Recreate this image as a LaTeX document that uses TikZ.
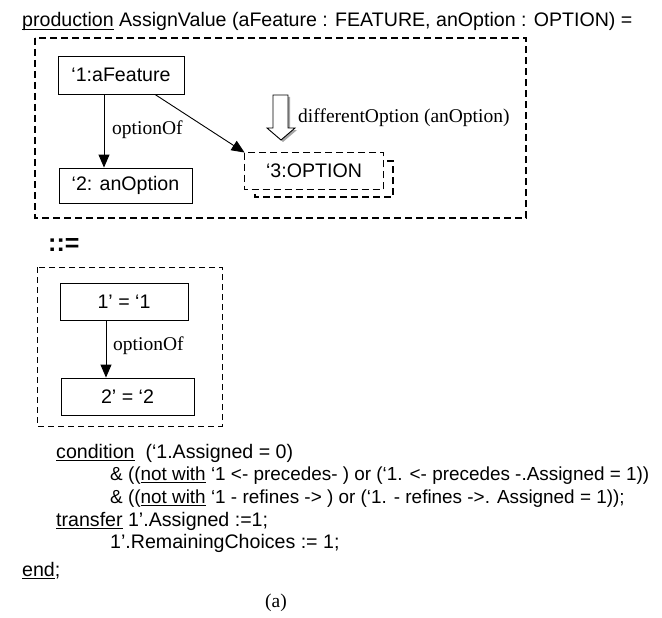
\documentclass[tikz,border=0pt]{standalone}
\usepackage{fontspec}
\setmainfont{Liberation Sans}
\newfontfamily\serifrm{Liberation Serif}
\usetikzlibrary{arrows.meta,calc}
% underline sitting just below the baseline
\newcommand{\ulx}[1]{\setbox0\hbox{#1}\rlap{\rule[-2.6pt]{\wd0}{0.9pt}}\box0\relax}
\tikzset{
  txt/.style={inner sep=0pt, anchor=base west, font=\fontsize{19.6}{22}\selectfont},
  cond/.style={txt, font=\fontsize{18.9}{22}\selectfont},
  box/.style={draw, line width=0.9pt, inner sep=0pt, font=\fontsize{19.6}{22}\selectfont},
  lbl/.style={inner sep=0pt, anchor=base west, font=\serifrm\fontsize{19.5}{22}\selectfont},
  arr/.style={line width=0.9pt, -{Triangle[length=13pt,width=11pt]}},
  bigdash/.style={line width=1.6pt, dash pattern=on 7pt off 4pt},
  smalldash/.style={line width=1pt, dash pattern=on 6pt off 4pt},
}
\begin{document}
\begin{tikzpicture}[x=1pt,y=-1pt]
\useasboundingbox (0,0) rectangle (662,618);

% heading
\node[txt] (title) at (22,27) {\ulx{production} AssignValue (aFeature : FEATURE, anOption : OPTION) =};

% left-hand side of the production
\draw[bigdash] (35,38) rectangle (526,218);
\node[box, minimum width=126, minimum height=38] (n1) at (121,75) {‘1:aFeature};
\node[box, minimum width=133, minimum height=35] (n2) at (125.5,185.5) {‘2: anOption};

% optional node, drawn as a stacked pair of dashed boxes
\draw[bigdash] (255,161) rectangle (393,197);
\node[box, draw=none, fill=white, minimum width=138, minimum height=36] (n3) at (314,171) {‘3:OPTION};
\draw[bigdash] (n3.north west) rectangle (n3.south east);

\coordinate (ax) at (104,0);
\draw[arr] (n1.south -| ax) -- (n2.north -| ax);
\node[lbl] (l1) at (112,135) {optionOf};
\draw[arr] ($(n1.south)+(34,0)$) -- (n3.north west);

% hollow arrow for the negative application condition
\coordinate (hx) at (281,140);
\fill[gray!70] ($(hx)+(2,2)$) -- ++(14,-12) -- ++(-7,0) -- ++(0,-33) -- ++(-15,0) -- ++(0,33) -- ++(-6,0) -- cycle;
\draw[line width=0.9pt, fill=white, line join=miter] (hx) -- ++(14,-12) -- ++(-7,0) -- ++(0,-33) -- ++(-15,0) -- ++(0,33) -- ++(-6,0) -- cycle;
\node[lbl] (l2) at (298,123) {differentOption (anOption)};

% rewrite symbol
\node[txt, font=\bfseries\fontsize{25}{28}\selectfont] (def) at (48,251) {::=};

% right-hand side of the production
\draw[smalldash] (37,267) rectangle (222,426);
\node[box, minimum width=128, minimum height=37] (n4) at (124,301.5) {1’ = ‘1};
\node[box, minimum width=133, minimum height=37] (n5) at (127.5,396.5) {2’ = ‘2};
\coordinate (bx) at (106,0);
\draw[arr] (n4.south -| bx) -- (n5.north -| bx);
\node[lbl] (l3) at (113,350) {optionOf};

% condition and transfer clauses
\node[txt] (c1) at (56,458) {\ulx{condition}\ \ (‘1.Assigned = 0)};
\node[cond] (c2) at (110,480) {\& ((\ulx{not with} ‘1 <- precedes- ) or (‘1. <- precedes -.Assigned = 1))};
\node[cond] (c3) at (110,503) {\& ((\ulx{not with} ‘1 - refines -> ) or (‘1. - refines ->. Assigned = 1));};
\node[txt] (t1) at (56,526) {\ulx{transfer} 1’.Assigned :=1;};
\node[txt] (t2) at (110,548) {1’.RemainingChoices := 1;};
\node[txt] (e1) at (22,576) {\ulx{end};};
\node[lbl, anchor=base] (cap) at (276,607) {(a)};
\end{tikzpicture}
\end{document}
